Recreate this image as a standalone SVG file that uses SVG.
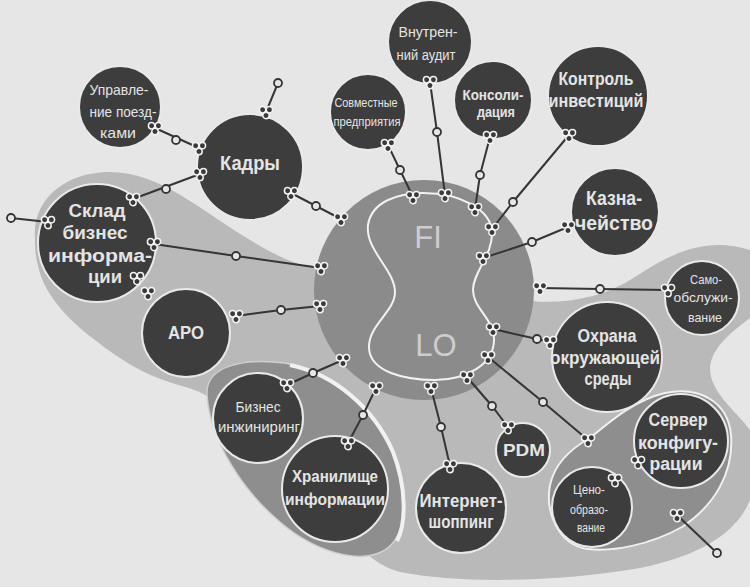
<svg xmlns="http://www.w3.org/2000/svg" xmlns:xlink="http://www.w3.org/1999/xlink" width="750" height="587" viewBox="0 0 750 587">
<style>
.node{fill:#3d3d3d;stroke:#e9e9e9;stroke-width:2}
.t{font-family:"Liberation Sans","Arial","DejaVu Sans",sans-serif;font-weight:700;fill:#e4e4e4;text-anchor:middle}
.r{font-weight:400}
.hubt{font-family:"Liberation Sans","Arial",sans-serif;font-weight:400;fill:#cdcdcd;text-anchor:middle;font-size:31px}
.ln{stroke:#353535;stroke-width:2;fill:none}
.op{fill:#e6e6e6;stroke:#353535;stroke-width:1.8}
</style>
<defs>
<g id="cl">
<circle cx="-3.4" cy="-2.3" r="3.2" fill="#3a3a3a" stroke="#f4f4f4" stroke-width="1.5"/>
<circle cx="3.4" cy="-2.3" r="3.2" fill="#3a3a3a" stroke="#f4f4f4" stroke-width="1.5"/>
<circle cx="0" cy="3.5" r="3.2" fill="#3a3a3a" stroke="#f4f4f4" stroke-width="1.5"/>
</g>
</defs>
<rect width="750" height="587" fill="#e6e6e6"/>
<g id="background-shapes">
<path d="M 35,238 C 32,200 65,172 110,172 C 160,172 200,210 250,240 C 280,258 305,270 330,268 L 420,300 L 520,300 C 560,305 600,300 635,277 C 670,254 705,236 750,250 L 750,318 C 735,330 712,345 710,368 C 710,392 735,410 750,430 L 750,500 C 738,530 705,555 640,568 C 560,582 460,584 400,572 C 378,566 360,552 340,520 L 230,420 C 220,400 205,392 175,384 C 145,375 120,360 95,340 C 65,318 42,290 38,265 C 35,255 35,246 35,238 Z" fill="#b9b9b9"/>
<circle cx="424" cy="290" r="110" fill="#8b8b8b"/>
<path d="M 207,395 C 205,365 245,358 285,363 C 330,372 372,405 392,450 C 410,490 408,535 385,550 C 360,565 315,552 280,522 C 242,490 210,440 207,395 Z" fill="#8e8e8e" stroke="#cfcfcf" stroke-width="1.5"/>
<path d="M 290,365 C 334,374 374,408 393,452 C 407,488 406,524 397,541" fill="none" stroke="#f1f1f1" stroke-width="4"/>
<path d="M 550,485 C 555,462 572,448 590,438 C 612,420 635,400 665,393 C 700,386 728,402 731,435 C 734,472 715,505 682,527 C 650,545 612,552 588,549 C 558,545 545,512 550,485 Z" fill="#8e8e8e" stroke="#f0f0f0" stroke-width="2"/>
<path d="M 420,193 C 400,194 372,200 368,225 C 365,250 395,270 395,292 C 395,312 368,325 369,348 C 370,372 405,380 435,380 C 465,380 495,365 494,338 C 493,318 473,308 473,290 C 473,272 493,255 492,232 C 491,210 460,192 420,193 Z" fill="none" stroke="#f2f2f2" stroke-width="2"/>
<text class="hubt" x="428" y="248">FI</text>
<text class="hubt" x="436" y="356">LO</text>
</g>
<g id="n-upravlenie"><circle class="node" cx="120" cy="107" r="41"/>
<text class="t r" font-size="15" x="119" y="95" textLength="59" lengthAdjust="spacingAndGlyphs">Управле-</text>
<text class="t r" font-size="15" x="123" y="117" textLength="67" lengthAdjust="spacingAndGlyphs">ние поезд-</text>
<text class="t r" font-size="15" x="118" y="138" textLength="36" lengthAdjust="spacingAndGlyphs">ками</text></g>
<g id="n-kadry"><circle class="node" cx="250" cy="167" r="53"/>
<text class="t" font-size="20" x="250" y="170" textLength="60" lengthAdjust="spacingAndGlyphs">Кадры</text></g>
<g id="n-sovmestnye"><circle class="node" cx="368" cy="112" r="38"/>
<text class="t r" font-size="12.5" x="366" y="107" textLength="63" lengthAdjust="spacingAndGlyphs">Совместные</text>
<text class="t r" font-size="12.5" x="367" y="126" textLength="67" lengthAdjust="spacingAndGlyphs">предприятия</text></g>
<g id="n-audit"><circle class="node" cx="430" cy="42" r="42"/>
<text class="t r" font-size="14" x="428" y="37" textLength="59" lengthAdjust="spacingAndGlyphs">Внутрен-</text>
<text class="t r" font-size="14" x="426" y="60" textLength="59" lengthAdjust="spacingAndGlyphs">ний аудит</text></g>
<g id="n-konsolidacia"><circle class="node" cx="493" cy="100" r="39"/>
<text class="t" font-size="15" x="493" y="100" textLength="61" lengthAdjust="spacingAndGlyphs">Консоли-</text>
<text class="t" font-size="15" x="496" y="117" textLength="38" lengthAdjust="spacingAndGlyphs">дация</text></g>
<g id="n-kontrol"><circle class="node" cx="598" cy="96" r="50"/>
<text class="t" font-size="18" x="596" y="85" textLength="75" lengthAdjust="spacingAndGlyphs">Контроль</text>
<text class="t" font-size="18" x="596" y="107" textLength="95" lengthAdjust="spacingAndGlyphs">инвестиций</text></g>
<g id="n-kaznacheistvo"><circle class="node" cx="615" cy="212" r="44"/>
<text class="t" font-size="20" x="614" y="205" textLength="56" lengthAdjust="spacingAndGlyphs">Казна-</text>
<text class="t" font-size="20" x="614" y="230" textLength="78" lengthAdjust="spacingAndGlyphs">чейство</text></g>
<g id="n-samoobsluzhivanie"><circle class="node" cx="702" cy="298" r="37"/>
<text class="t r" font-size="13" x="706" y="284" textLength="32" lengthAdjust="spacingAndGlyphs">Само-</text>
<text class="t r" font-size="13" x="703" y="302" textLength="59" lengthAdjust="spacingAndGlyphs">обслужи-</text>
<text class="t r" font-size="13" x="705" y="322" textLength="34" lengthAdjust="spacingAndGlyphs">вание</text></g>
<g id="n-sklad"><circle class="node" cx="97" cy="243" r="59"/>
<text class="t" font-size="18.5" x="97" y="217" textLength="57" lengthAdjust="spacingAndGlyphs">Склад</text>
<text class="t" font-size="18.5" x="95" y="239" textLength="65" lengthAdjust="spacingAndGlyphs">бизнес</text>
<text class="t" font-size="18.5" x="100" y="262" textLength="104" lengthAdjust="spacingAndGlyphs">информа-</text>
<text class="t" font-size="18.5" x="105" y="283" textLength="34" lengthAdjust="spacingAndGlyphs">ции</text></g>
<g id="n-apo"><circle class="node" cx="186" cy="333" r="44"/>
<text class="t" font-size="18" x="186" y="339" textLength="36" lengthAdjust="spacingAndGlyphs">АРО</text></g>
<g id="n-biznes-inzhiniring"><circle class="node" cx="258" cy="418" r="45"/>
<text class="t r" font-size="14" x="258" y="412" textLength="45" lengthAdjust="spacingAndGlyphs">Бизнес</text>
<text class="t r" font-size="14" x="259" y="432" textLength="82" lengthAdjust="spacingAndGlyphs">инжиниринг</text></g>
<g id="n-hranilishche"><circle class="node" cx="335" cy="489" r="53"/>
<text class="t" font-size="17" x="335" y="482" textLength="86" lengthAdjust="spacingAndGlyphs">Хранилище</text>
<text class="t" font-size="17" x="335" y="505" textLength="100" lengthAdjust="spacingAndGlyphs">информации</text></g>
<g id="n-internet"><circle class="node" cx="461" cy="508" r="45"/>
<text class="t" font-size="18" x="461" y="507" textLength="83" lengthAdjust="spacingAndGlyphs">Интернет-</text>
<text class="t" font-size="18" x="461" y="528" textLength="65" lengthAdjust="spacingAndGlyphs">шоппинг</text></g>
<g id="n-pdm"><circle class="node" cx="523" cy="450" r="27"/>
<text class="t" font-size="17" x="524" y="456" textLength="42" lengthAdjust="spacingAndGlyphs">PDM</text></g>
<g id="n-ohrana"><circle class="node" cx="607" cy="357" r="55"/>
<text class="t" font-size="18" x="607" y="342" textLength="59" lengthAdjust="spacingAndGlyphs">Охрана</text>
<text class="t" font-size="18" x="605" y="364" textLength="110" lengthAdjust="spacingAndGlyphs">окружающей</text>
<text class="t" font-size="18" x="608" y="385" textLength="47" lengthAdjust="spacingAndGlyphs">среды</text></g>
<g id="n-server"><circle class="node" cx="681" cy="441" r="47"/>
<text class="t" font-size="18" x="678" y="426" textLength="59" lengthAdjust="spacingAndGlyphs">Сервер</text>
<text class="t" font-size="18" x="678" y="449" textLength="80" lengthAdjust="spacingAndGlyphs">конфигу-</text>
<text class="t" font-size="18" x="676" y="470" textLength="53" lengthAdjust="spacingAndGlyphs">рации</text></g>
<g id="n-cenoobrazovanie"><circle class="node" cx="592" cy="507" r="40"/>
<text class="t r" font-size="13" x="589" y="494" textLength="32" lengthAdjust="spacingAndGlyphs">Цено-</text>
<text class="t r" font-size="13" x="589" y="514" textLength="38" lengthAdjust="spacingAndGlyphs">образо-</text>
<text class="t r" font-size="13" x="591" y="532" textLength="28" lengthAdjust="spacingAndGlyphs">вание</text></g>
<g id="connectors">
<polyline class="ln" points="266,112 278,83"/>
<polyline class="ln" points="155,128 199,148"/>
<polyline class="ln" points="200,174 133,199"/>
<polyline class="ln" points="291,193 341,219"/>
<polyline class="ln" points="48,222 11,218"/>
<polyline class="ln" points="154,244 236,256 321,268"/>
<polyline class="ln" points="236,316 281,310 320,306"/>
<polyline class="ln" points="287,385 313,373 343,360"/>
<polyline class="ln" points="348,443 363,415 376,388"/>
<polyline class="ln" points="450,466 441,427 431,388"/>
<polyline class="ln" points="508,427 492,406 467,377"/>
<polyline class="ln" points="588,440 543,402 488,357"/>
<polyline class="ln" points="550,342 537,339 493,329"/>
<polyline class="ln" points="668,290 600,289 540,288"/>
<polyline class="ln" points="568,227 532,242 483,258"/>
<polyline class="ln" points="569,135 513,202 492,229"/>
<polyline class="ln" points="490,137 480,175 475,209"/>
<polyline class="ln" points="430,82 437,132 445,195"/>
<polyline class="ln" points="388,145 400,170 413,197"/>
<polyline class="ln" points="677,515 717,553"/>
<circle class="op" cx="278" cy="83" r="4"/>
<circle class="op" cx="176" cy="140" r="4"/>
<circle class="op" cx="166" cy="189" r="4"/>
<circle class="op" cx="316" cy="206" r="4"/>
<circle class="op" cx="11" cy="218" r="4"/>
<circle class="op" cx="236" cy="256" r="4"/>
<circle class="op" cx="281" cy="310" r="4"/>
<circle class="op" cx="313" cy="373" r="4"/>
<circle class="op" cx="363" cy="415" r="4"/>
<circle class="op" cx="441" cy="427" r="4"/>
<circle class="op" cx="492" cy="406" r="4"/>
<circle class="op" cx="543" cy="402" r="4"/>
<circle class="op" cx="537" cy="339" r="4"/>
<circle class="op" cx="600" cy="289" r="4"/>
<circle class="op" cx="532" cy="242" r="4"/>
<circle class="op" cx="513" cy="202" r="4"/>
<circle class="op" cx="480" cy="175" r="4"/>
<circle class="op" cx="437" cy="132" r="4"/>
<circle class="op" cx="400" cy="170" r="4"/>
<circle class="op" cx="717" cy="553" r="4"/>
<use href="#cl" x="266" y="112"/>
<use href="#cl" x="155" y="128"/>
<use href="#cl" x="199" y="148"/>
<use href="#cl" x="200" y="174"/>
<use href="#cl" x="133" y="199"/>
<use href="#cl" x="291" y="193"/>
<use href="#cl" x="341" y="219"/>
<use href="#cl" x="48" y="222"/>
<use href="#cl" x="154" y="244"/>
<use href="#cl" x="321" y="268"/>
<use href="#cl" x="137" y="278"/>
<use href="#cl" x="148" y="293"/>
<use href="#cl" x="236" y="316"/>
<use href="#cl" x="320" y="306"/>
<use href="#cl" x="287" y="385"/>
<use href="#cl" x="343" y="360"/>
<use href="#cl" x="348" y="443"/>
<use href="#cl" x="376" y="388"/>
<use href="#cl" x="450" y="466"/>
<use href="#cl" x="431" y="388"/>
<use href="#cl" x="508" y="427"/>
<use href="#cl" x="467" y="377"/>
<use href="#cl" x="588" y="440"/>
<use href="#cl" x="488" y="357"/>
<use href="#cl" x="550" y="342"/>
<use href="#cl" x="493" y="329"/>
<use href="#cl" x="668" y="290"/>
<use href="#cl" x="540" y="288"/>
<use href="#cl" x="568" y="227"/>
<use href="#cl" x="483" y="258"/>
<use href="#cl" x="569" y="135"/>
<use href="#cl" x="492" y="229"/>
<use href="#cl" x="490" y="137"/>
<use href="#cl" x="475" y="209"/>
<use href="#cl" x="430" y="82"/>
<use href="#cl" x="445" y="195"/>
<use href="#cl" x="388" y="145"/>
<use href="#cl" x="413" y="197"/>
<use href="#cl" x="677" y="515"/>
<use href="#cl" x="638" y="462"/>
<use href="#cl" x="615" y="480"/>
</g>
</svg>
